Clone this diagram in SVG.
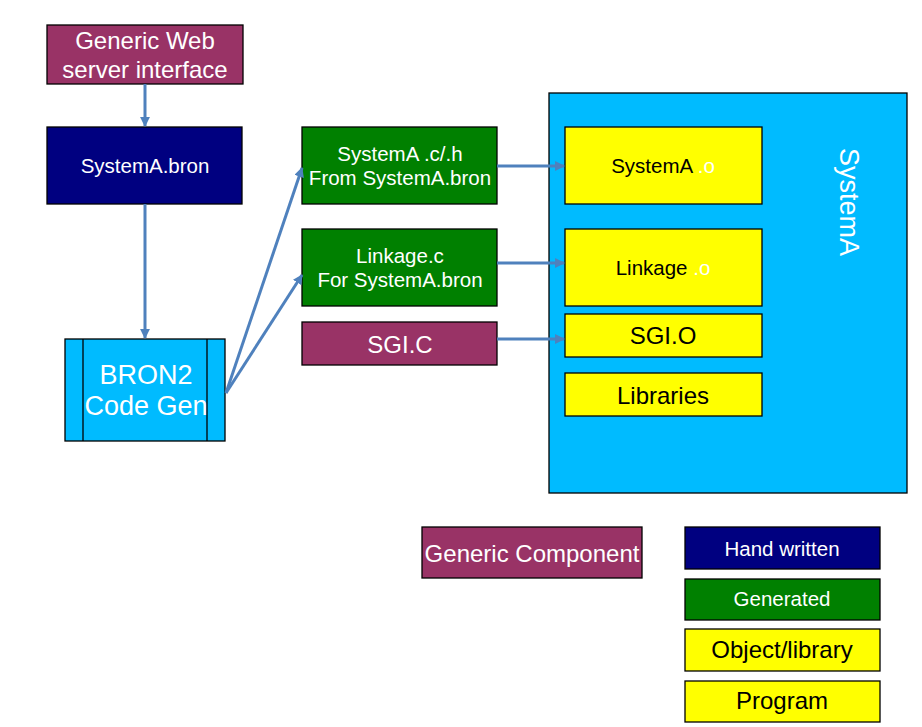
<svg xmlns="http://www.w3.org/2000/svg" width="922" height="727" viewBox="0 0 922 727">
<style>
text{font-family:"Liberation Sans",Arial,sans-serif;text-anchor:middle}
.b{stroke:#000;stroke-width:1.3}
.maroon{fill:#993366}.navy{fill:#000080}.green{fill:#008000}.yellow{fill:#FFFF00}.cyan{fill:#00BBFF}
.w{fill:#fff}.k{fill:#000}
.c{stroke:#4F81BD;stroke-width:3;fill:none;marker-end:url(#ah)}
</style>
<defs>
<marker id="ah" viewBox="0 0 10 10" refX="9" refY="5" markerWidth="3.3" markerHeight="3.3" orient="auto" markerUnits="strokeWidth">
<path d="M0,0 L10,5 L0,10 z" fill="#4F81BD"/>
</marker>
</defs>
<rect width="922" height="727" fill="#fff"/>
<g id="systemA">
<rect class="b cyan" x="549" y="93" width="358" height="400"/>
<text class="w" font-size="27" transform="translate(840,202) rotate(90)">SystemA</text>
</g>
<g id="generic-web">
<rect class="b maroon" x="47" y="25" width="196" height="59"/>
<text class="w" font-size="24" x="145" y="49">Generic Web</text>
<text class="w" font-size="24" x="145" y="78">server interface</text>
</g>
<g id="systemA-bron">
<rect class="b navy" x="47" y="127" width="195" height="77"/>
<text class="w" font-size="20.5" x="145" y="173">SystemA.bron</text>
</g>
<g id="bron2">
<rect class="b cyan" x="65" y="339" width="160" height="102"/>
<line class="b" x1="83" y1="339" x2="83" y2="441"/>
<line class="b" x1="207" y1="339" x2="207" y2="441"/>
<text class="w" font-size="27" x="146" y="384">BRON2</text>
<text class="w" font-size="27" x="146" y="415">Code Gen</text>
</g>
<g id="systemA-ch">
<rect class="b green" x="302" y="127" width="195" height="77"/>
<text class="w" font-size="20.5" x="400" y="161">SystemA .c/.h</text>
<text class="w" font-size="20.5" x="400" y="185">From SystemA.bron</text>
</g>
<g id="linkage-c">
<rect class="b green" x="302" y="229" width="195" height="77"/>
<text class="w" font-size="20.5" x="400" y="263">Linkage.c</text>
<text class="w" font-size="20.5" x="400" y="287">For SystemA.bron</text>
</g>
<g id="sgi-c">
<rect class="b maroon" x="302" y="322" width="195" height="43"/>
<text class="w" font-size="24" x="400" y="353">SGI.C</text>
</g>
<g id="systemA-o">
<rect class="b yellow" x="565" y="127" width="197" height="77"/>
<text class="k" font-size="20.5" x="663" y="173">SystemA <tspan class="w">.o</tspan></text>
</g>
<g id="linkage-o">
<rect class="b yellow" x="565" y="229" width="197" height="77"/>
<text class="k" font-size="20.5" x="663" y="275">Linkage <tspan class="w">.o</tspan></text>
</g>
<g id="sgi-o">
<rect class="b yellow" x="565" y="314" width="197" height="43"/>
<text class="k" font-size="24" x="663" y="344">SGI.O</text>
</g>
<g id="libraries">
<rect class="b yellow" x="565" y="373" width="197" height="43"/>
<text class="k" font-size="24" x="663" y="404">Libraries</text>
</g>
<g id="legend-generic">
<rect class="b maroon" x="422" y="527" width="220" height="51"/>
<text class="w" font-size="24" x="532" y="562">Generic Component</text>
</g>
<g id="legend-hand">
<rect class="b navy" x="685" y="527" width="195" height="42"/>
<text class="w" font-size="20.5" x="782" y="556">Hand written</text>
</g>
<g id="legend-generated">
<rect class="b green" x="685" y="579" width="195" height="41"/>
<text class="w" font-size="20.5" x="782" y="606">Generated</text>
</g>
<g id="legend-object">
<rect class="b yellow" x="685" y="629" width="195" height="42"/>
<text class="k" font-size="24" x="782" y="658">Object/library</text>
</g>
<g id="legend-program">
<rect class="b yellow" x="685" y="681" width="195" height="41"/>
<text class="k" font-size="24" x="782" y="709">Program</text>
</g>
<g id="connectors">
<line class="c" x1="145" y1="84" x2="145" y2="126"/>
<line class="c" x1="145" y1="204" x2="145" y2="338"/>
<line class="c" x1="226" y1="393" x2="302" y2="168"/>
<line class="c" x1="226" y1="393" x2="302" y2="275"/>
<line class="c" x1="497" y1="166" x2="564" y2="166"/>
<line class="c" x1="497" y1="263" x2="564" y2="263"/>
<line class="c" x1="497" y1="339" x2="564" y2="339"/>
</g>
</svg>
